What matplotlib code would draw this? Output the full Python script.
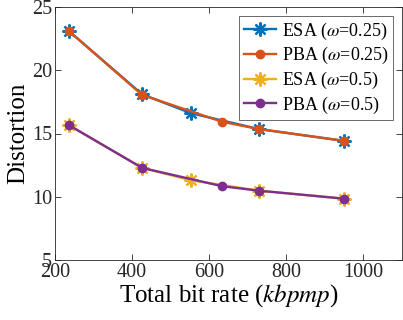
import numpy as np
import matplotlib

matplotlib.use('Agg')

from matplotlib import pyplot as plt

plt.rcParams['font.family'] = 'Liberation Serif'
plt.rcParams['mathtext.fontset'] = 'stix'

# data
esa_rate = [236, 426, 553, 729, 949]
pba_rate = [236, 426, 634, 729, 949]
esa_025 = [23.1, 18.1, 16.6, 15.35, 14.42]
pba_025 = [23.1, 18.05, 15.92, 15.35, 14.42]
esa_05 = [15.66, 12.28, 11.3, 10.48, 9.85]
pba_05 = [15.66, 12.28, 10.83, 10.48, 9.85]

blue, orange, yellow, purple = '#0072BD', '#D95319', '#EDB120', '#7E2F8E'
star = (8, 2, 0)  # matlab style asterisk

my_dpi = 100
fig = plt.figure(figsize=(403 / my_dpi, 320 / my_dpi), dpi=my_dpi)
ax = fig.add_axes([55 / 403, 1 - 260 / 320, 347 / 403, 253 / 320])

lw = 1.7
ax.plot(esa_rate, esa_025, color=blue, marker=star, markersize=10, mew=1.6, lw=lw, label=r'ESA ($\omega$=0.25)')
ax.plot(pba_rate, pba_025, color=orange, marker='o', markersize=6, lw=lw, label=r'PBA ($\omega$=0.25)')
ax.plot(esa_rate, esa_05, color=yellow, marker=star, markersize=10, mew=1.6, lw=lw, label=r'ESA ($\omega$=0.5)')
ax.plot(pba_rate, pba_05, color=purple, marker='o', markersize=6, lw=lw, label=r'PBA ($\omega$=0.5)')

ax.set_xlim(200, 1100)
ax.set_ylim(5, 25)
ax.set_xticks([200, 400, 600, 800, 1000])
ax.set_yticks([5, 10, 15, 20, 25])
ax.tick_params(direction='in', top=True, right=True, labelsize=14.5, colors='#262626',
               length=4, width=0.6, pad=2)
for s in ax.spines.values():
    s.set_color('#262626')
    s.set_linewidth(0.6)

ax.set_xlabel('Total bit rate ($kbpmp$)', fontsize=18, labelpad=0)
ax.set_ylabel('Distortion', fontsize=18, labelpad=2)

leg = ax.legend(loc='upper right', fontsize=13, fancybox=False, edgecolor='#262626',
                handlelength=1.8, handletextpad=0.3, labelspacing=0.2, borderpad=0.25,
                borderaxespad=0.5)
leg.get_frame().set_linewidth(0.6)

plt.savefig('out.png', dpi=my_dpi)
